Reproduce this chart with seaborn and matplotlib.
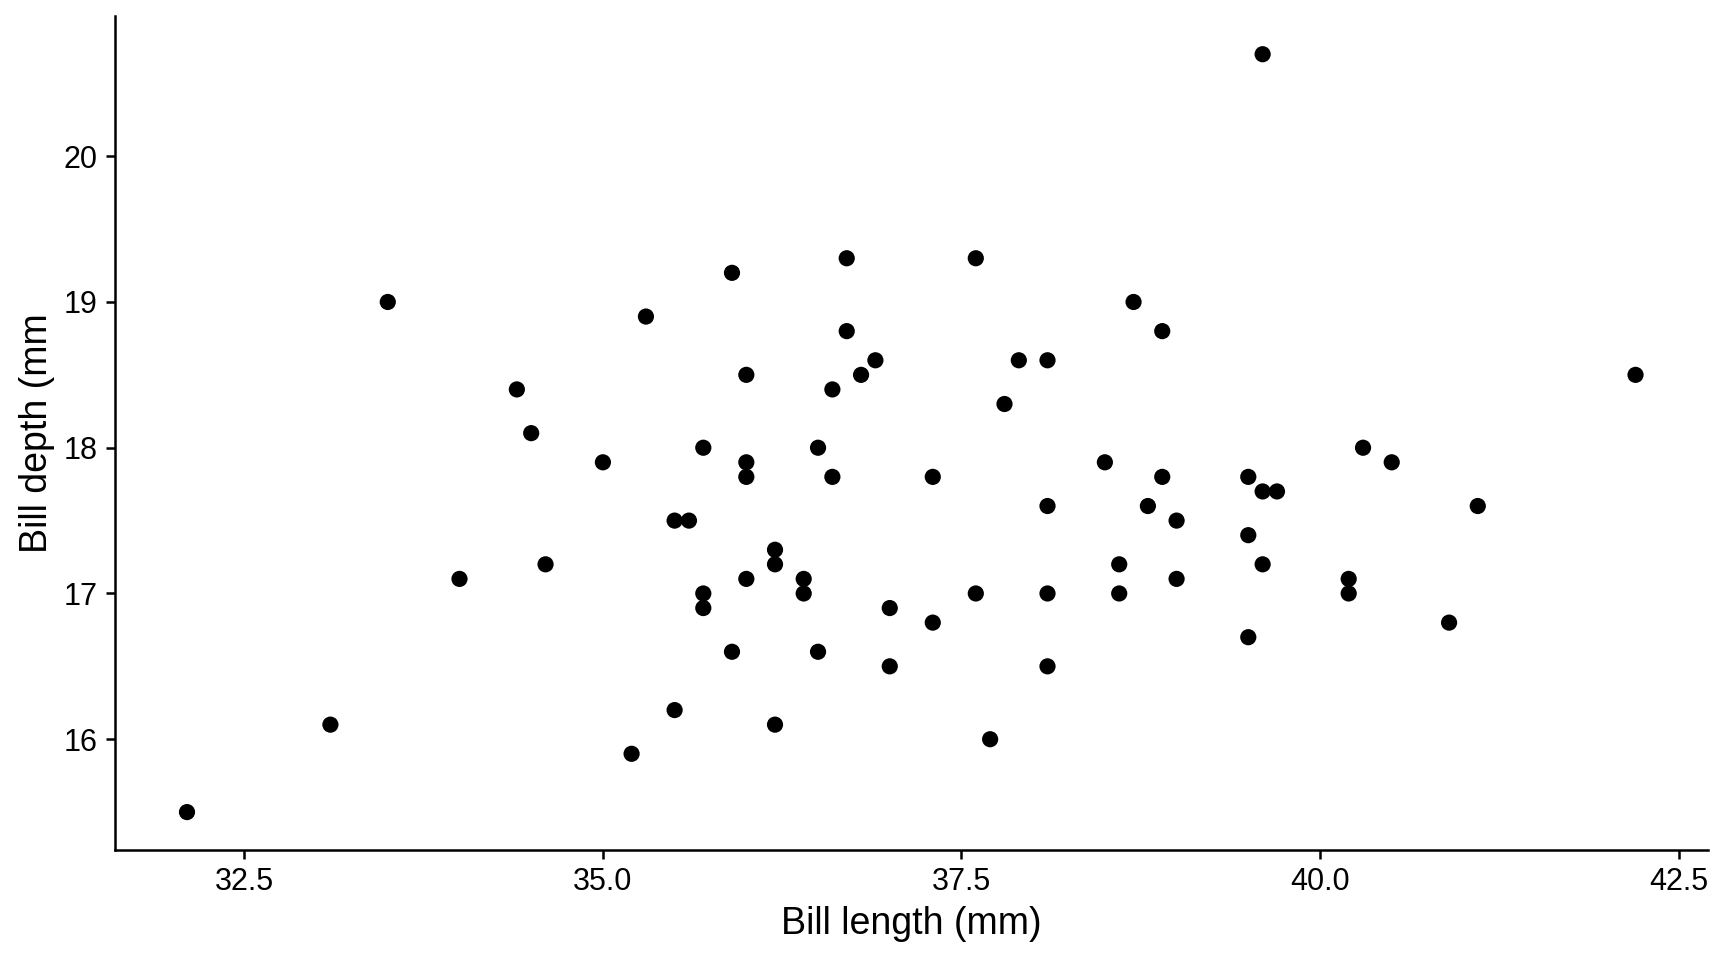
import matplotlib
matplotlib.use("Agg")
import matplotlib.pyplot as plt
import seaborn as sns
import pandas as pd

bill_length = [32.1, 33.1, 33.5, 34.0, 34.4, 34.5, 34.6, 35.0, 35.2, 35.3,
               35.5, 35.6, 35.5, 35.7, 35.7, 35.7, 35.9, 35.9, 36.0, 36.0,
               36.0, 36.0, 36.2, 36.2, 36.2, 36.4, 36.4, 36.5, 36.5, 36.6,
               36.6, 36.7, 36.7, 36.8, 36.9, 37.0, 37.0, 37.3, 37.3, 37.6,
               37.6, 37.7, 37.8, 37.9, 38.1, 38.1, 38.1, 38.1, 38.5, 38.6,
               38.6, 38.7, 38.8, 38.9, 38.9, 39.0, 39.0, 39.5, 39.5, 39.5,
               39.6, 39.6, 39.7, 39.6, 40.2, 40.2, 40.3, 40.5, 40.9, 41.1,
               42.2]
bill_depth = [15.5, 16.1, 19.0, 17.1, 18.4, 18.1, 17.2, 17.9, 15.9, 18.9,
              17.5, 17.5, 16.2, 18.0, 17.0, 16.9, 19.2, 16.6, 18.5, 17.9,
              17.8, 17.1, 17.3, 17.2, 16.1, 17.1, 17.0, 18.0, 16.6, 18.4,
              17.8, 19.3, 18.8, 18.5, 18.6, 16.9, 16.5, 17.8, 16.8, 19.3,
              17.0, 16.0, 18.3, 18.6, 18.6, 17.6, 17.0, 16.5, 17.9, 17.2,
              17.0, 19.0, 17.6, 18.8, 17.8, 17.5, 17.1, 17.8, 17.4, 16.7,
              20.7, 17.7, 17.7, 17.2, 17.1, 17.0, 18.0, 17.9, 16.8, 17.6,
              18.5]
x_ticks = [32.5, 35.0, 37.5, 40.0, 42.5]
y_ticks = [16, 17, 18, 19, 20]

df = pd.DataFrame({"x": bill_length, "y": bill_depth})

sns.set_theme(style="ticks")
plt.rcParams["font.family"] = ["Liberation Sans", "DejaVu Sans"]

fig = plt.figure(figsize=(8.64, 4.8), dpi=200)
ax = fig.add_axes([0.0663, 0.1146, 0.9221, 0.8684])
sns.scatterplot(data=df, x="x", y="y", ax=ax, color="black", s=34,
                linewidth=0, edgecolor="none")

xr = max(bill_length) - min(bill_length)
yr = max(bill_depth) - min(bill_depth)
ax.set_xlim(min(bill_length) - 0.05 * xr, max(bill_length) + 0.05 * xr)
ax.set_ylim(min(bill_depth) - 0.05 * yr, max(bill_depth) + 0.05 * yr)
ax.set_xticks(x_ticks)
ax.set_xticklabels([f"{v:.1f}" for v in x_ticks])
ax.set_yticks(y_ticks)
ax.set_yticklabels([str(v) for v in y_ticks])
ax.set_xlabel("Bill length (mm)", fontsize=13.5, color="black", labelpad=3)
ax.set_ylabel("Bill depth (mm", fontsize=13.5, color="black", labelpad=3)
ax.tick_params(axis="both", labelsize=11, colors="black", length=3.2,
               width=0.9, pad=3)
for side in ["top", "right"]:
    ax.spines[side].set_visible(False)
for side in ["left", "bottom"]:
    ax.spines[side].set_linewidth(0.9)
    ax.spines[side].set_color("black")

fig.savefig("out.png", dpi=200)
